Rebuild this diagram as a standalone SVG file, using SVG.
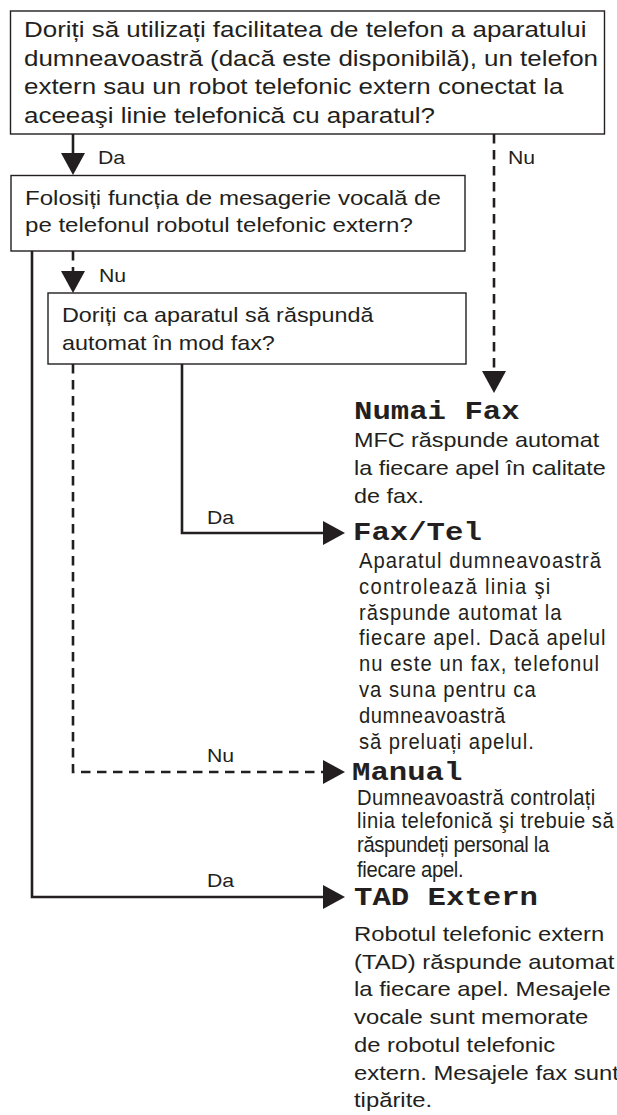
<svg xmlns="http://www.w3.org/2000/svg" width="617" height="1115" viewBox="0 0 617 1115">
<style>
.box{fill:#fff;stroke:#231f20;stroke-width:1.4}
.t{font-family:"Liberation Sans",Arial,sans-serif;fill:#231f20}
.n{font-family:"Liberation Sans",Arial,sans-serif;fill:#231f20;font-size:22px}
.m{font-family:"Liberation Mono","Courier New",monospace;font-weight:bold;fill:#231f20;font-size:26px}
.lbl{font-family:"Liberation Sans",Arial,sans-serif;fill:#231f20;font-size:18px}
.ln{fill:none;stroke:#231f20;stroke-width:2.6}
.dash{stroke-dasharray:9.5 6.5}
</style>
<defs>
<marker id="ah" markerUnits="userSpaceOnUse" markerWidth="22" markerHeight="24" refX="0" refY="12" orient="auto" viewBox="0 0 22 24">
<path d="M0,0 L22,12 L0,24 Z" fill="#231f20"/>
</marker>
</defs>

<g id="connectors">
<path class="ln" d="M73,134 V153" marker-end="url(#ah)"/>
<path class="ln dash" d="M494,134 V371" marker-end="url(#ah)"/>
<path class="ln dash" d="M73,251 V271" marker-end="url(#ah)"/>
<path class="ln" d="M32,251 V897 H323" marker-end="url(#ah)"/>
<path class="ln" d="M182,364 V533 H323" marker-end="url(#ah)"/>
<path class="ln dash" d="M73,364 V772 H323" marker-end="url(#ah)"/>
<g transform="translate(98 0) scale(1.18 1)"><text class="lbl" x="0" y="164">Da</text></g>
<g transform="translate(508 0) scale(1.18 1)"><text class="lbl" x="0" y="164">Nu</text></g>
<g transform="translate(99 0) scale(1.18 1)"><text class="lbl" x="0" y="282">Nu</text></g>
<g transform="translate(207 0) scale(1.18 1)"><text class="lbl" x="0" y="524">Da</text></g>
<g transform="translate(207 0) scale(1.18 1)"><text class="lbl" x="0" y="762">Nu</text></g>
<g transform="translate(207 0) scale(1.18 1)"><text class="lbl" x="0" y="887">Da</text></g>
</g>

<g id="q1">
<rect class="box" x="10.5" y="11" width="594" height="123"/>
<g transform="translate(24 0) scale(1.18 1)" class="t" font-size="22">
<text x="0" y="37">Doriți să utilizați facilitatea de telefon a aparatului</text>
<text x="0" y="66">dumneavoastră (dacă este disponibilă), un telefon</text>
<text x="0" y="94">extern sau un robot telefonic extern conectat la</text>
<text x="0" y="123">aceeaşi linie telefonică cu aparatul?</text>
</g>
</g>

<g id="q2">
<rect class="box" x="11" y="175.5" width="454" height="75.5"/>
<g transform="translate(25 0) scale(1.18 1)" class="t" font-size="20.4">
<text x="0" y="205">Folosiți funcția de mesagerie vocală de</text>
<text x="0" y="232">pe telefonul robotul telefonic extern?</text>
</g>
</g>

<g id="q3">
<rect class="box" x="48" y="293" width="418" height="71"/>
<g transform="translate(62 0) scale(1.18 1)" class="t" font-size="19.8">
<text x="0" y="322">Doriți ca aparatul să răspundă</text>
<text x="0" y="350">automat în mod fax?</text>
</g>
</g>

<g id="numai-fax">
<g transform="translate(354 0) scale(1.18 1)">
<text class="m" x="0" y="419">Numai Fax</text>
<g class="t" font-size="19.8">
<text x="0" y="447">MFC răspunde automat</text>
<text x="0" y="475">la fiecare apel în calitate</text>
<text x="0" y="503">de fax.</text>
</g>
</g>
</g>

<g id="fax-tel">
<g transform="translate(353 0) scale(1.18 1)">
<text class="m" x="0" y="540">Fax/Tel</text>
</g>
<g transform="translate(359 0) scale(0.92 1)">
<text class="n" x="0" y="568" textLength="263" lengthAdjust="spacing">Aparatul dumneavoastră</text>
<text class="n" x="0" y="594" textLength="208" lengthAdjust="spacing">controlează linia şi</text>
<text class="n" x="0" y="620" textLength="220" lengthAdjust="spacing">răspunde automat la</text>
<text class="n" x="0" y="645" textLength="268" lengthAdjust="spacing">fiecare apel. Dacă apelul</text>
<text class="n" x="0" y="671" textLength="261" lengthAdjust="spacing">nu este un fax, telefonul</text>
<text class="n" x="0" y="697" textLength="192" lengthAdjust="spacing">va suna pentru ca</text>
<text class="n" x="0" y="723" textLength="159" lengthAdjust="spacing">dumneavoastră</text>
<text class="n" x="0" y="749" textLength="190" lengthAdjust="spacing">să preluați apelul.</text>
</g>
</g>

<g id="manual">
<g transform="translate(352 0) scale(1.18 1)">
<text class="m" x="0" y="780">Manual</text>
</g>
<g transform="translate(357 0) scale(0.92 1)">
<text class="n" x="0" y="805" textLength="259" lengthAdjust="spacing">Dumneavoastră controlați</text>
<text class="n" x="0" y="828" textLength="279" lengthAdjust="spacing">linia telefonică şi trebuie să</text>
<text class="n" x="0" y="852" textLength="209" lengthAdjust="spacing">răspundeți personal la</text>
<text class="n" x="0" y="877" textLength="116" lengthAdjust="spacing">fiecare apel.</text>
</g>
</g>

<g id="tad-extern">
<g transform="translate(354 0) scale(1.18 1)">
<text class="m" x="0" y="905">TAD Extern</text>
<g class="t" font-size="20.2">
<text x="0" y="941">Robotul telefonic extern</text>
<text x="0" y="969">(TAD) răspunde automat</text>
<text x="0" y="996">la fiecare apel. Mesajele</text>
<text x="0" y="1024">vocale sunt memorate</text>
<text x="0" y="1052">de robotul telefonic</text>
<text x="0" y="1080">extern. Mesajele fax sunt</text>
<text x="0" y="1107">tipărite.</text>
</g>
</g>
</g>
</svg>
